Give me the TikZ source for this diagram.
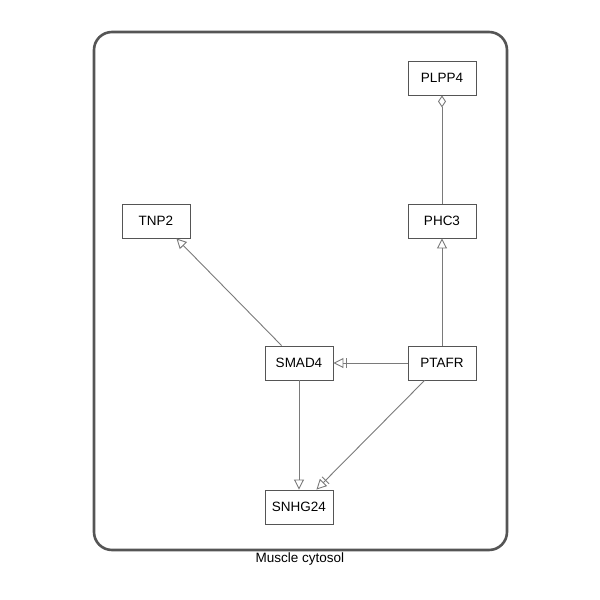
\documentclass[tikz,border=0pt]{standalone}
\usepackage{fontspec}
\setmainfont{Liberation Sans}
\usetikzlibrary{arrows.meta,calc}
\definecolor{edgec}{HTML}{7A7A7A}
\definecolor{boxc}{HTML}{555555}
\begin{document}
\begin{tikzpicture}[x=1pt,y=-1pt,
  gene/.style={draw=boxc,line width=0.9pt,fill=white,minimum width=68pt,minimum height=34pt,inner sep=0pt,font=\fontsize{13.5}{15}\selectfont},
  edge/.style={draw=edgec,line width=0.9pt},
  stim/.style={edge,-{Triangle[open,length=10pt,width=10pt]}},
  inh/.style={edge,-{Bar[width=10pt,line width=0.9pt,sep=2.5pt] Triangle[open,length=10pt,width=10pt]}},
  dia/.style={edge,-{Diamond[open,length=12pt,width=8pt]}}]
\useasboundingbox (0,0) rectangle (600,600);
\draw[boxc,line width=2.6pt,rounded corners=18pt] (94,32) rectangle (507,550);
\node[font=\fontsize{13.5}{15}\selectfont] (lbl) at (300,559) {Muscle cytosol};
\node[gene] (plpp4) at (442,78) {PLPP4};
\node[gene] (phc3) at (442,221) {PHC3};
\node[gene] (tnp2) at (156,221) {TNP2};
\node[gene] (smad4) at (299,363) {SMAD4};
\node[gene] (ptafr) at (442,363) {PTAFR};
\node[gene] (snhg24) at (299,507) {SNHG24};
\draw[dia] (phc3) -- (plpp4);
\draw[stim] (ptafr) -- (phc3);
\draw[stim] ($(smad4.north west)+(17,0)$) -- ($(tnp2.south east)+(-14,0)$);
\draw[inh] (ptafr) -- (smad4);
\draw[stim] (smad4) -- (snhg24);
\draw[inh] ($(ptafr.south west)+(17,0)$) -- ($(snhg24.north east)+(-17,0)$);
\end{tikzpicture}
\end{document}
